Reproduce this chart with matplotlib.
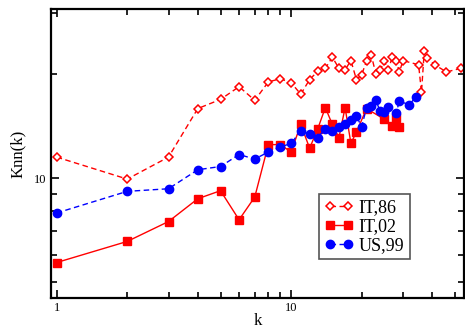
import matplotlib
matplotlib.use('Agg')
import matplotlib.pyplot as plt
from matplotlib.ticker import FixedLocator, NullFormatter, FixedFormatter

# IT,86 (open diamonds, dashed)
k86 = [1, 2, 3, 4, 5, 6, 7, 8, 9, 10, 11, 12, 13, 14, 15, 16, 17, 18, 19, 20,
       21, 22, 23, 24, 25, 26, 27, 28, 29, 30, 35, 36, 37, 38, 41, 46, 53]
knn86 = [11.5, 9.93, 11.5, 15.9, 16.9, 18.4, 16.8, 19.0, 19.4, 18.9, 17.5, 19.3,
         20.4, 20.8, 22.4, 20.8, 20.6, 21.9, 19.3, 19.9, 21.9, 22.7, 20.0, 20.6,
         21.8, 20.6, 22.4, 21.9, 20.3, 21.9, 21.3, 17.7, 23.4, 22.3, 21.3, 20.3, 20.8]

# IT,02 (filled squares, solid)
k02 = [1, 2, 3, 4, 5, 6, 7, 8, 9, 10, 11, 12, 13, 14, 15, 16, 17, 18, 19, 21,
       25, 27, 28, 29]
knn02 = [5.69, 6.55, 7.48, 8.71, 9.19, 7.57, 8.81, 12.5, 12.5, 11.9, 14.3, 12.2,
         13.9, 16.0, 14.3, 13.1, 16.0, 12.6, 13.6, 15.9, 14.8, 14.2, 14.9, 14.1]

# US,99 (filled circles, dashed)
k99 = [1, 2, 3, 4, 5, 6, 7, 8, 9, 10, 11, 12, 13, 14, 15, 16, 17, 18, 19, 20,
       21, 22, 23, 24, 25, 26, 28, 29, 32, 34]
knn99 = [7.92, 9.15, 9.31, 10.57, 10.8, 11.7, 11.35, 11.9, 12.3, 12.6, 13.7, 13.4,
         13.1, 13.9, 13.7, 14.1, 14.3, 14.7, 15.1, 14.1, 16.0, 16.2, 16.8, 15.6,
         15.5, 16.1, 15.4, 16.7, 16.3, 17.2]

plt.rcParams['font.family'] = ['Liberation Serif', 'DejaVu Serif']

fig = plt.figure(figsize=(4.65, 3.29), dpi=100)
ax = fig.add_axes([0.1097, 0.0942, 0.8883, 0.8784])

ax.plot(k86, knn86, color='red', ls=(0, (4, 2.5)), lw=1.0, marker='D', ms=4.2,
        mfc='white', mec='red', mew=1.1, label='IT,86')
ax.plot(k02, knn02, color='red', ls='-', lw=1.0, marker='s', ms=5.5,
        mfc='red', mec='red', label='IT,02')
ax.plot(k99, knn99, color='blue', ls=(0, (4, 2.5)), lw=1.0, marker='o', ms=6,
        mfc='blue', mec='blue', label='US,99')

ax.set_xscale('log')
ax.set_yscale('log')
ax.set_xlim(0.946, 54.7)
ax.set_ylim(4.49, 30.9)

ax.xaxis.set_major_locator(FixedLocator([1, 10]))
ax.xaxis.set_major_formatter(FixedFormatter(['1', '10']))
ax.xaxis.set_minor_locator(FixedLocator([2, 3, 4, 5, 6, 7, 8, 9, 20, 30, 40, 50]))
ax.xaxis.set_minor_formatter(NullFormatter())
ax.yaxis.set_major_locator(FixedLocator([10]))
ax.yaxis.set_major_formatter(FixedFormatter(['10']))
ax.yaxis.set_minor_locator(FixedLocator([5, 6, 7, 8, 9, 20, 30]))
ax.yaxis.set_minor_formatter(NullFormatter())

ax.tick_params(which='both', direction='in', top=True, right=True, width=1.2,
               labelsize=9, pad=3)
ax.tick_params(which='major', length=6)
ax.tick_params(which='minor', length=4)
for s in ax.spines.values():
    s.set_linewidth(1.6)

ax.set_xlabel('k', fontsize=12, labelpad=-1)
ax.set_ylabel('Knn(k)', fontsize=12, labelpad=6)

leg = ax.legend(loc='upper left', bbox_to_anchor=(0.649, 0.36), fontsize=13,
                numpoints=2, handlelength=1.6, handletextpad=0.3,
                labelspacing=0.1, borderpad=0.3, fancybox=False,
                framealpha=1, edgecolor='#555555', borderaxespad=0)
leg.get_frame().set_linewidth(1.2)

fig.savefig('out.png', dpi=100)
